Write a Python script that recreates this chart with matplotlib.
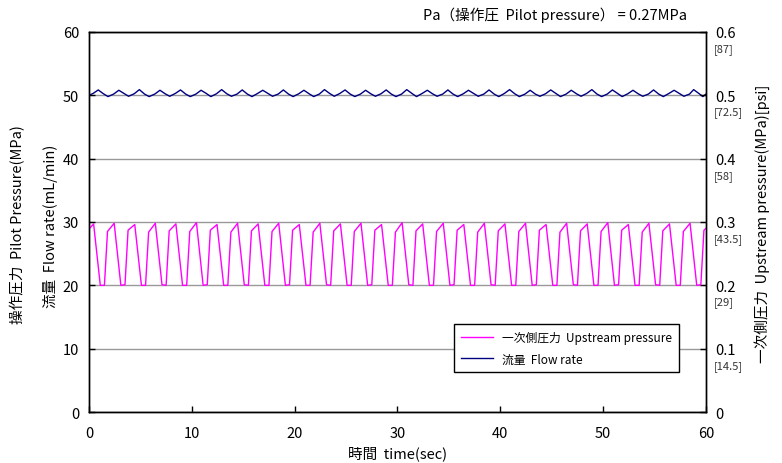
import matplotlib
matplotlib.use('Agg')
import matplotlib.pyplot as plt

plt.rcParams['font.family'] = ['Noto Sans CJK JP', 'DejaVu Sans']

# upstream pressure (MPa), corner points of each ~2 s cycle
press_t = [0.0,
    0.45, 1.1, 1.5, 1.8,
    2.45, 3.1, 3.5, 3.8,
    4.45, 5.1, 5.5, 5.8,
    6.45, 7.1, 7.5, 7.8,
    8.45, 9.1, 9.5, 9.8,
    10.45, 11.1, 11.5, 11.8,
    12.45, 13.1, 13.5, 13.8,
    14.45, 15.1, 15.5, 15.8,
    16.45, 17.1, 17.5, 17.8,
    18.45, 19.1, 19.5, 19.8,
    20.45, 21.1, 21.5, 21.8,
    22.45, 23.1, 23.5, 23.8,
    24.45, 25.1, 25.5, 25.8,
    26.45, 27.1, 27.5, 27.8,
    28.45, 29.1, 29.5, 29.8,
    30.45, 31.1, 31.5, 31.8,
    32.45, 33.1, 33.5, 33.8,
    34.45, 35.1, 35.5, 35.8,
    36.45, 37.1, 37.5, 37.8,
    38.45, 39.1, 39.5, 39.8,
    40.45, 41.1, 41.5, 41.8,
    42.45, 43.1, 43.5, 43.8,
    44.45, 45.1, 45.5, 45.8,
    46.45, 47.1, 47.5, 47.8,
    48.45, 49.1, 49.5, 49.8,
    50.45, 51.1, 51.5, 51.8,
    52.45, 53.1, 53.5, 53.8,
    54.45, 55.1, 55.5, 55.8,
    56.45, 57.1, 57.5, 57.8,
    58.45, 59.1, 59.5, 59.8,
    60.0]
press_v = [0.289,
    0.297, 0.200, 0.200, 0.285,
    0.298, 0.200, 0.201, 0.287,
    0.296, 0.200, 0.200, 0.284,
    0.298, 0.201, 0.200, 0.286,
    0.297, 0.200, 0.200, 0.285,
    0.299, 0.200, 0.201, 0.287,
    0.296, 0.200, 0.200, 0.284,
    0.298, 0.201, 0.200, 0.286,
    0.297, 0.200, 0.200, 0.285,
    0.298, 0.200, 0.201, 0.287,
    0.296, 0.200, 0.200, 0.284,
    0.298, 0.201, 0.200, 0.286,
    0.297, 0.200, 0.200, 0.285,
    0.298, 0.200, 0.201, 0.287,
    0.296, 0.200, 0.200, 0.284,
    0.299, 0.201, 0.200, 0.286,
    0.297, 0.200, 0.200, 0.285,
    0.298, 0.200, 0.201, 0.287,
    0.296, 0.200, 0.200, 0.284,
    0.298, 0.201, 0.200, 0.286,
    0.297, 0.200, 0.200, 0.285,
    0.298, 0.200, 0.201, 0.287,
    0.296, 0.200, 0.200, 0.284,
    0.298, 0.201, 0.200, 0.286,
    0.297, 0.200, 0.200, 0.285,
    0.299, 0.200, 0.201, 0.287,
    0.296, 0.200, 0.200, 0.284,
    0.298, 0.201, 0.200, 0.286,
    0.297, 0.200, 0.200, 0.285,
    0.298, 0.200, 0.201, 0.287,
    0.290]

# flow rate (mL/min)
flow_t = [0.0,
    0.4, 0.9, 1.4, 1.85,
    2.4, 2.9, 3.4, 3.85,
    4.4, 4.9, 5.4, 5.85,
    6.4, 6.9, 7.4, 7.85,
    8.4, 8.9, 9.4, 9.85,
    10.4, 10.9, 11.4, 11.85,
    12.4, 12.9, 13.4, 13.85,
    14.4, 14.9, 15.4, 15.85,
    16.4, 16.9, 17.4, 17.85,
    18.4, 18.9, 19.4, 19.85,
    20.4, 20.9, 21.4, 21.85,
    22.4, 22.9, 23.4, 23.85,
    24.4, 24.9, 25.4, 25.85,
    26.4, 26.9, 27.4, 27.85,
    28.4, 28.9, 29.4, 29.85,
    30.4, 30.9, 31.4, 31.85,
    32.4, 32.9, 33.4, 33.85,
    34.4, 34.9, 35.4, 35.85,
    36.4, 36.9, 37.4, 37.85,
    38.4, 38.9, 39.4, 39.85,
    40.4, 40.9, 41.4, 41.85,
    42.4, 42.9, 43.4, 43.85,
    44.4, 44.9, 45.4, 45.85,
    46.4, 46.9, 47.4, 47.85,
    48.4, 48.9, 49.4, 49.85,
    50.4, 50.9, 51.4, 51.85,
    52.4, 52.9, 53.4, 53.85,
    54.4, 54.9, 55.4, 55.85,
    56.4, 56.9, 57.4, 57.85,
    58.4, 58.8, 59.3, 59.7,
    60.0]
flow_v = [50.0,
    50.3, 50.85, 50.25, 49.8,
    50.2, 50.8, 50.3, 49.85,
    50.25, 50.9, 50.2, 49.8,
    50.2, 50.8, 50.25, 49.85,
    50.3, 50.85, 50.2, 49.8,
    50.2, 50.8, 50.3, 49.8,
    50.25, 50.9, 50.25, 49.85,
    50.2, 50.85, 50.2, 49.8,
    50.3, 50.8, 50.3, 49.85,
    50.2, 50.85, 50.2, 49.8,
    50.25, 50.8, 50.25, 49.8,
    50.2, 50.9, 50.3, 49.85,
    50.3, 50.85, 50.2, 49.8,
    50.2, 50.8, 50.25, 49.85,
    50.25, 50.85, 50.2, 49.8,
    50.2, 50.9, 50.3, 49.8,
    50.3, 50.8, 50.25, 49.85,
    50.2, 50.85, 50.2, 49.8,
    50.25, 50.8, 50.3, 49.85,
    50.2, 50.85, 50.2, 49.8,
    50.3, 50.9, 50.25, 49.8,
    50.2, 50.8, 50.2, 49.85,
    50.25, 50.85, 50.3, 49.8,
    50.2, 50.8, 50.25, 49.85,
    50.3, 50.9, 50.2, 49.8,
    50.2, 50.85, 50.3, 49.8,
    50.25, 50.8, 50.25, 49.85,
    50.2, 50.85, 50.2, 49.8,
    50.3, 50.8, 50.3, 49.85,
    50.2, 50.9, 50.3, 49.8,
    50.2]

left_ticks = [0, 10, 20, 30, 40, 50, 60]
right_ticks = [0, 0.1, 0.2, 0.3, 0.4, 0.5, 0.6]
right_labels = ['0', '0.1', '0.2', '0.3', '0.4', '0.5', '0.6']
psi_labels = ['', '[14.5]', '[29]', '[43.5]', '[58]', '[72.5]', '[87]']
x_ticks = [0, 10, 20, 30, 40, 50, 60]

fig = plt.figure(figsize=(7.82, 4.64), dpi=100)
ax1 = fig.add_axes([0.1138, 0.1099, 0.789, 0.819])
ax2 = ax1.twinx()

flow_line, = ax1.plot(flow_t, flow_v, color='#000080', lw=1.0, label='流量  Flow rate')
press_line, = ax2.plot(press_t, press_v, color='#FF00FF', lw=1.0, label='一次側圧力  Upstream pressure')

ax1.set_xlim(0, 60)
ax1.set_ylim(0, 60)
ax2.set_ylim(0, 0.6)
ax1.set_xticks(x_ticks)
ax1.set_yticks(left_ticks)
ax2.set_yticks(right_ticks)
ax2.set_yticklabels(right_labels)

ax1.grid(axis='y', color='#999999', lw=1.0)
ax1.set_axisbelow(True)

ax1.tick_params(axis='both', direction='in', length=4, width=1, labelsize=10.5, pad=7)
ax1.tick_params(axis='x', pad=10)
ax2.tick_params(axis='y', direction='in', length=4, width=1, labelsize=10.5, pad=7)
for ax in (ax1, ax2):
    for s in ax.spines.values():
        s.set_linewidth(1.0)
        s.set_color('black')

for v, lab in zip(right_ticks, psi_labels):
    if lab:
        ax2.annotate(lab, xy=(1.0, v), xycoords=('axes fraction', 'data'),
                     xytext=(5.5, -12), textcoords='offset points',
                     ha='left', va='center', fontsize=8, color='#333333')

ax1.set_xlabel('時間  time(sec)', fontsize=10.5, labelpad=4)
fig.text(18 / 782, 0.517, '操作圧力  Pilot Pressure(MPa)', rotation=90,
         ha='center', va='center', fontsize=10.5)
fig.text(51 / 782, 0.513, '流量  Flow rate(mL/min)', rotation=90,
         ha='center', va='center', fontsize=10.5)
fig.text(762 / 782, 0.517, '一次側圧力  Upstream pressure(MPa)[psi]', rotation=90,
         ha='center', va='center', fontsize=10.5)
fig.text(555 / 782, 1 - 15 / 464, 'Pa（操作圧  Pilot pressure） = 0.27MPa',
         ha='center', va='center', fontsize=10.5)

leg = ax2.legend(handles=[press_line, flow_line], loc='lower left',
                 bbox_to_anchor=(0.592, 0.105), borderaxespad=0,
                 fontsize=8.5, frameon=True,
                 fancybox=False, edgecolor='black', framealpha=1.0,
                 handlelength=2.7, handletextpad=0.8, borderpad=0.55,
                 labelspacing=0.75)
leg.get_frame().set_linewidth(1.0)

fig.savefig('out.png', dpi=100)
